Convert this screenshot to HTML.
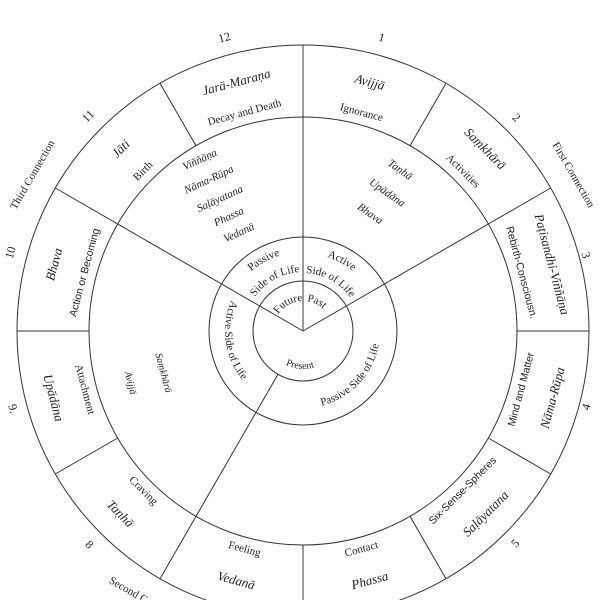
<!DOCTYPE html>
<html><head><meta charset="utf-8"><style>
html,body{margin:0;padding:0;background:#fff;}
svg{display:block;}
text{font-family:"Liberation Serif",serif;fill:#222;}
.p{font-style:italic;font-size:13px;}
.e{font-size:11px;}
.s{font-family:"Liberation Sans",sans-serif;font-size:10.5px;}
.n{font-size:12px;}
.i{font-style:italic;font-size:11px;}
.r{font-size:11px;}
</style></head><body>
<svg width="600" height="600" viewBox="0 0 600 600" xmlns="http://www.w3.org/2000/svg">
<defs>
<path id="pa" d="M224,329.6 A79,79 0 0 1 343.7,263.3"/>
<path id="pb" d="M244,330 A59,59 0 0 1 333.4,280.4"/>
<path id="pc" d="M262.8,264.2 A78,78 0 0 1 381,329.6"/>
<path id="pd" d="M273.1,281.3 A58,58 0 0 1 361,330"/>
<path id="pf" d="M273,330.5 A30,30 0 0 1 318.9,305.6"/>
<path id="pp" d="M285.8,306.4 A30,30 0 0 1 332.9,328.4"/>
<path id="pr" d="M268.6,347.1 A38,38 0 0 0 334.1,352.8"/>
<path id="pl" d="M255,269.5 A78,78 0 0 0 273.8,403.3"/>
<path id="pq" d="M285.7,406 A77,77 0 0 0 376.6,308.5"/>
</defs>
<g fill="none" stroke="#333" stroke-width="1">
<circle cx="303" cy="331" r="50"/>
<circle cx="303" cy="331" r="94"/>
<circle cx="303" cy="331" r="214"/>
<circle cx="303" cy="331" r="286"/>
<line x1="303" y1="331" x2="303" y2="45"/>
<line x1="303" y1="331" x2="550.7" y2="188"/>
<line x1="303" y1="331" x2="55.3" y2="188"/>
<line x1="278" y1="374.3" x2="160" y2="578.7"/>
<line x1="410" y1="145.7" x2="446" y2="83.3"/>
<line x1="517" y1="331" x2="589" y2="331"/>
<line x1="488.3" y1="438" x2="550.7" y2="474"/>
<line x1="410" y1="516.3" x2="446" y2="578.7"/>
<line x1="303" y1="545" x2="303" y2="617"/>
<line x1="117.7" y1="438" x2="55.3" y2="474"/>
<line x1="89" y1="331" x2="17" y2="331"/>
<line x1="196" y1="145.7" x2="160" y2="83.3"/>
</g>
<g text-anchor="middle" dominant-baseline="central">
<g transform="translate(303,331) rotate(15)"><text class="p" y="-258">Avijjā</text><text class="e" y="-226">Ignorance</text><text class="n" y="-304">1</text></g>
<g transform="translate(303,331) rotate(45)"><text class="p" y="-258">Saṃkhārā</text><text class="e" y="-226">Activities</text><text class="n" y="-302">2</text></g>
<g transform="translate(303,331) rotate(75)"><text class="p" y="-258">Paṭisandhi-Viññāṇa</text><text class="s" y="-226">Rebirth-Consciousn.</text><text class="n" y="-293">3</text></g>
<g transform="translate(303,331) rotate(-75)"><text class="p" y="-258">Bhava</text><text class="s" y="-226">Action or Becoming</text><text class="n" y="-303">10</text></g>
<g transform="translate(303,331) rotate(-45)"><text class="p" y="-258">Jāti</text><text class="e" y="-226">Birth</text><text class="n" y="-304">11</text></g>
<g transform="translate(303,331) rotate(-15)"><text class="p" y="-258">Jarā-Maraṇa</text><text class="e" y="-226">Decay and Death</text><text class="n" y="-304">12</text></g>
<g transform="translate(303,331) rotate(-75)"><text class="p" y="258">Nāma-Rūpa</text><text class="s" y="226">Mind and Matter</text><text class="n" y="293">4</text></g>
<g transform="translate(303,331) rotate(-45)"><text class="p" y="258">Saḷāyatana</text><text class="s" y="226">Six-Sense-Spheres</text><text class="n" y="300">5</text></g>
<g transform="translate(303,331) rotate(-15)"><text class="p" y="258">Phassa</text><text class="e" y="226">Contact</text></g>
<g transform="translate(303,331) rotate(15)"><text class="p" y="258">Vedanā</text><text class="e" y="226">Feeling</text></g>
<g transform="translate(303,331) rotate(45)"><text class="p" y="258">Taṇhā</text><text class="e" y="226">Craving</text><text class="n" y="302">8</text></g>
<g transform="translate(303,331) rotate(75)"><text class="p" y="258">Upādāna</text><text class="e" y="226">Attachment</text><text class="n" y="300">9.</text></g>
<g transform="translate(303,331) rotate(60)"><text class="e" y="-312">First Connection</text></g>
<g transform="translate(303,331) rotate(-60)"><text class="e" y="-312">Third Connection</text></g>
<g transform="translate(303,331) rotate(30)"><text class="e" y="312">Second Connection</text></g>
<text class="i" transform="translate(400,170) rotate(35)">Taṇhā</text>
<text class="i" transform="translate(387,193) rotate(35)">Upādāna</text>
<text class="i" transform="translate(370,214) rotate(35)">Bhava</text>
<text class="i" transform="translate(200,160) rotate(-25)">Viññāṇa</text>
<text class="i" transform="translate(209,180) rotate(-25)">Nāma-Rūpa</text>
<text class="i" transform="translate(220,199) rotate(-25)">Saḷāyatana</text>
<text class="i" transform="translate(229,217) rotate(-25)">Phassa</text>
<text class="i" transform="translate(239,233) rotate(-25)">Vedanā</text>
<text class="i" style="font-size:10px" transform="translate(163,373) rotate(75)">Saṃkhārā</text>
<text class="i" style="font-size:10px" transform="translate(130,383) rotate(75)">Avijjā</text>
</g>
<text class="r"><textPath href="#pa" startOffset="50%" text-anchor="middle">Passive</textPath></text>
<text class="r"><textPath href="#pb" startOffset="50%" text-anchor="middle">Side of Life</textPath></text>
<text class="r"><textPath href="#pc" startOffset="50%" text-anchor="middle">Active</textPath></text>
<text class="r"><textPath href="#pd" startOffset="50%" text-anchor="middle">Side of Life</textPath></text>
<text class="r"><textPath href="#pf" startOffset="50%" text-anchor="middle">Future</textPath></text>
<text class="r"><textPath href="#pp" startOffset="50%" text-anchor="middle">Past</textPath></text>
<text class="e" style="font-size:10px"><textPath href="#pr" startOffset="50%" text-anchor="middle">Present</textPath></text>
<text class="r"><textPath href="#pl" startOffset="50%" text-anchor="middle">Active Side of Life</textPath></text>
<text class="r"><textPath href="#pq" startOffset="50%" text-anchor="middle">Passive Side of Life</textPath></text>
</svg>
</body></html>
